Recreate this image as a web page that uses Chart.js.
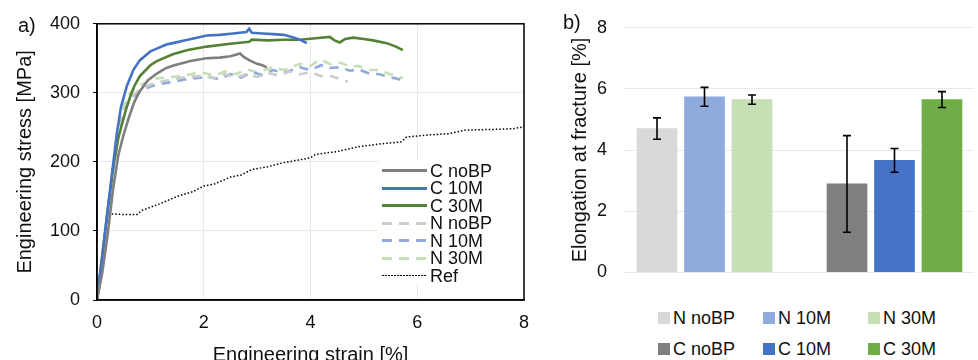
<!DOCTYPE html>
<html>
<head>
<meta charset="utf-8">
<script src="https://cdn.jsdelivr.net/npm/chart.js@4.4.1/dist/chart.umd.min.js"></script>
<style>
  html, body { margin: 0; padding: 0; background: #fff; overflow: hidden; width: 978px; height: 360px; }
  body { position: relative; font-family: "Liberation Sans", Arial, sans-serif; color: #111; }
  #stressChart { position: absolute; left: 0; top: 0; }
  #elongChart { position: absolute; left: 560px; top: 0; }
  .panel-label { position: absolute; font-size: 20px; line-height: 20px; }
  .line-legend { position: absolute; left: 378px; top: 161px; width: 144px; height: 123px; background: #fff; }
  .line-legend .row, .bar-legend .item { position: absolute; height: 18px; font-size: 18px; line-height: 18px; display: flex; align-items: center; white-space: nowrap; }
  .line-legend .sample { width: 45px; height: 3px; margin-right: 3px; }
  .bar-legend .box { width: 12px; height: 12px; margin-right: 3px; }
</style>
</head>
<body>
<canvas id="stressChart" width="548" height="380"></canvas>
<canvas id="elongChart" width="418" height="300"></canvas>
<div class="panel-label" style="left:18px; top:15px;">a)</div>
<div class="panel-label" style="left:563px; top:12px;">b)</div>
<div class="line-legend" id="lineLegend"></div>
<div class="bar-legend" id="barLegend"></div>

<script>
// ---- panel a) stress-strain curves, [strain %, stress MPa] ----
const seriesNames = ['C noBP', 'C 10M', 'C 30M', 'N noBP', 'N 10M', 'N 30M', 'Ref'];

const cNoBP = [[0,0],[0.1,40],[0.2,95],[0.3,160],[0.4,210],[0.5,240],[0.6,265],[0.7,287],[0.8,302],[0.95,318],
  [1.12,328],[1.3,336],[1.45,340],[1.75,346],[2.05,350],[2.3,351],[2.5,353],[2.68,357],[2.75,352],[2.86,347],
  [3.0,342],[3.1,340],[3.18,337]];
const c10M = [[0,0],[0.1,65],[0.2,130],[0.3,195],[0.37,240],[0.45,280],[0.56,310],[0.68,333],[0.8,347],[1.0,360],
  [1.12,364],[1.3,370],[1.42,372],[1.7,377],[2.06,383],[2.3,384],[2.55,386],[2.8,388],[2.85,393],[2.9,387],
  [3.1,386],[3.3,385],[3.5,384],[3.65,381],[3.8,377],[3.93,372]];
const c30M = [[0,0],[0.1,65],[0.2,130],[0.3,190],[0.4,235],[0.47,255],[0.55,278],[0.62,294],[0.7,310],[0.8,324],
  [1.0,340],[1.12,346],[1.42,356],[1.7,362],[2.06,367],[2.5,371],[2.85,374],[2.9,377],[3.2,376],[3.5,377],
  [3.8,377],[4.1,379],[4.36,381],[4.45,376],[4.55,373],[4.65,378],[4.8,380],[5.0,378],[5.17,376],[5.43,372],
  [5.6,367],[5.73,362]];
const nNoBP = [[0,0],[0.1,55],[0.2,120],[0.3,185],[0.4,240],[0.5,270],[0.6,290],[0.75,302],[1.0,312],[1.3,318],
  [1.6,322],[2.0,325],[2.2,321],[2.4,327],[2.6,322],[2.8,327],[3.0,323],[3.2,329],[3.4,325],[3.6,331],
  [3.8,327],[4.0,330],[4.2,324],[4.4,324],[4.55,320],[4.7,316]];
const n10M = [[0,0],[0.1,60],[0.2,125],[0.3,190],[0.4,245],[0.5,270],[0.6,288],[0.67,294],[0.8,302],[1.0,309],
  [1.12,312],[1.42,316],[1.7,320],[2.06,323],[2.3,320],[2.5,327],[2.7,322],[2.9,330],[3.1,326],[3.3,333],
  [3.5,329],[3.8,337],[4.0,333],[4.2,340],[4.36,336],[4.55,337],[4.74,332],[4.9,334],[5.1,328],[5.3,327],
  [5.49,322],[5.6,321],[5.75,317]];
const n30M = [[0,0],[0.1,60],[0.2,125],[0.3,190],[0.4,245],[0.47,275],[0.56,294],[0.65,303],[0.8,311],[1.0,318],
  [1.12,321],[1.42,323],[1.7,326],[1.93,330],[2.2,325],[2.4,331],[2.6,327],[2.8,334],[3.0,330],[3.3,337],
  [3.5,333],[3.8,342],[4.0,339],[4.18,348],[4.36,342],[4.55,344],[4.74,338],[4.9,339],[5.1,333],[5.3,333],
  [5.49,327],[5.6,326],[5.73,321]];
const refCurve = [[0,0],[0.1,60],[0.2,125],[0.45,124],[0.75,124],[0.85,130],[1.2,140],[1.5,150],[1.8,157],[2.0,165],
  [2.2,168],[2.5,178],[2.7,181],[2.9,189],[3.2,193],[3.5,199],[3.8,203],[4.0,206],[4.1,211],[4.5,215],
  [4.9,222],[5.3,226],[5.7,229],[5.8,236],[6.2,239],[6.6,241],[6.9,246],[7.4,247],[7.8,248],[8.0,251]];

const seriesData = [cNoBP, c10M, c30M, nNoBP, n10M, n30M, refCurve];
const seriesColors = ['#7f7f7f', '#4472c4', '#548235', '#cccccc', '#8faadc', '#c5e0b4', '#000000'];
const seriesStyles = ['solid', 'solid', 'solid', 'dashed', 'dashed', 'dashed', 'dotted'];

// ---- panel b) elongation at fracture ----
const barNames = ['N noBP', 'N 10M', 'N 30M', 'C noBP', 'C 10M', 'C 30M'];
const barSlots = [0, 1, 2, 4, 5, 6];
const barValues = [4.70, 5.74, 5.65, 2.89, 3.66, 5.65];
const barErrors = [0.35, 0.31, 0.15, 1.58, 0.39, 0.26];
const barColors = ['#d9d9d9', '#8faadc', '#c5e0b4', '#7f7f7f', '#4472c4', '#70ad47'];

Chart.defaults.font.family = '"Liberation Sans", Arial, sans-serif';
Chart.defaults.color = '#111';
Chart.defaults.animation = false;

const gridColor = '#e9e9e9';

// black frame around the plot area of panel a)
const frameBox = {
  id: 'frameBox',
  afterDatasetsDraw(chart) {
    const { ctx, chartArea: a } = chart;
    ctx.save();
    ctx.strokeStyle = '#000';
    ctx.lineWidth = 1.5;
    ctx.strokeRect(a.left, a.top, a.right - a.left, a.bottom - a.top);
    ctx.restore();
  }
};

const stressDatasets = seriesData.map((pts, i) => ({
  label: seriesNames[i],
  data: pts.map(p => ({ x: p[0], y: p[1] })),
  borderColor: seriesColors[i],
  borderWidth: seriesStyles[i] === 'dotted' ? 1.5 : 2.6,
  borderDash: seriesStyles[i] === 'dashed' ? [9, 7] : seriesStyles[i] === 'dotted' ? [1.5, 2] : [],
  pointRadius: 0,
  tension: 0,
  fill: false
}));

new Chart(document.getElementById('stressChart'), {
  type: 'line',
  data: { datasets: stressDatasets },
  options: {
    responsive: false,
    layout: { padding: { top: 23, right: 24, left: 0, bottom: 0 } },
    plugins: { legend: { display: false }, tooltip: { enabled: false } },
    scales: {
      x: {
        type: 'linear', min: 0, max: 8,
        ticks: { stepSize: 2, font: { size: 18 }, padding: 12 },
        grid: { color: gridColor, drawTicks: false },
        border: { color: '#000', width: 1.5 },
        title: { display: true, text: 'Engineering strain [%]', font: { size: 20 }, padding: { top: 0, bottom: 13 } },
        afterFit(scale) { scale.height = 80; }
      },
      y: {
        min: 0, max: 400,
        ticks: { stepSize: 100, font: { size: 18 }, padding: 13 },
        grid: { color: gridColor, tickLength: 4, tickColor: '#000' },
        border: { color: '#000', width: 1.5 },
        title: { display: true, text: 'Engineering stress [MPa]', font: { size: 20 }, padding: { top: 13, bottom: 0 } },
        afterFit(scale) { scale.width = 97; }
      }
    }
  },
  plugins: [frameBox]
});

// error bars for panel b)
const errorBars = {
  id: 'errorBars',
  afterDatasetsDraw(chart) {
    const { ctx } = chart;
    const yScale = chart.scales.y;
    ctx.save();
    ctx.strokeStyle = '#000';
    ctx.lineWidth = 1.6;
    chart.data.datasets.forEach((ds, i) => {
      chart.getDatasetMeta(i).data.forEach((bar, j) => {
        const v = ds.data[j].y;
        const e = ds.errors[j];
        const top = yScale.getPixelForValue(v + e);
        const bot = yScale.getPixelForValue(v - e);
        ctx.beginPath();
        ctx.moveTo(bar.x, top); ctx.lineTo(bar.x, bot);
        ctx.moveTo(bar.x - 4, top); ctx.lineTo(bar.x + 4, top);
        ctx.moveTo(bar.x - 4, bot); ctx.lineTo(bar.x + 4, bot);
        ctx.stroke();
      });
    });
    ctx.restore();
  }
};

const barDatasets = barNames.map((name, i) => ({
  label: name,
  data: [{ x: barSlots[i], y: barValues[i] }],
  errors: [barErrors[i]],
  backgroundColor: barColors[i],
  borderWidth: 0,
  barThickness: 40,
  grouped: false
}));

new Chart(document.getElementById('elongChart'), {
  type: 'bar',
  data: { datasets: barDatasets },
  options: {
    responsive: false,
    layout: { padding: { top: 22, right: 4, left: 0, bottom: 16 } },
    plugins: { legend: { display: false }, tooltip: { enabled: false } },
    scales: {
      x: { type: 'linear', min: -0.695, max: 6.674, offset: false, display: false },
      y: {
        min: 0, max: 8,
        ticks: { stepSize: 2, font: { size: 18 }, padding: 17 },
        grid: { color: gridColor, drawTicks: false },
        border: { display: false },
        title: { display: true, text: 'Elongation at fracture [%]', font: { size: 20 }, padding: { top: 8, bottom: 0 } },
        afterFit(scale) { scale.width = 64; }
      }
    }
  },
  plugins: [errorBars]
});

// legend of panel a), drawn inside the plot
const lineLegend = document.getElementById('lineLegend');
seriesNames.forEach((name, i) => {
  const row = document.createElement('div');
  row.className = 'row';
  row.style.left = '4px';
  row.style.top = (170.5 + i * 17.5 - 161 - 9) + 'px';
  const s = document.createElement('span');
  s.className = 'sample';
  const c = seriesColors[i];
  if (seriesStyles[i] === 'solid') s.style.background = c;
  else if (seriesStyles[i] === 'dashed') s.style.background = `repeating-linear-gradient(90deg, ${c} 0 10px, transparent 10px 17px)`;
  else { s.style.height = '1.5px'; s.style.background = `repeating-linear-gradient(90deg, ${c} 0 1.5px, transparent 1.5px 3px)`; }
  row.appendChild(s);
  row.appendChild(document.createTextNode(name));
  lineLegend.appendChild(row);
});

// legend of panel b), two rows of three
const barLegend = document.getElementById('barLegend');
const legendCols = [658, 763, 868];
const legendRows = [317.5, 348.5];
barNames.forEach((name, i) => {
  const item = document.createElement('div');
  item.className = 'item';
  item.style.left = legendCols[i % 3] + 'px';
  item.style.top = (legendRows[Math.floor(i / 3)] - 9) + 'px';
  const b = document.createElement('span');
  b.className = 'box';
  b.style.background = barColors[i];
  item.appendChild(b);
  item.appendChild(document.createTextNode(name));
  barLegend.appendChild(item);
});
</script>
</body>
</html>
